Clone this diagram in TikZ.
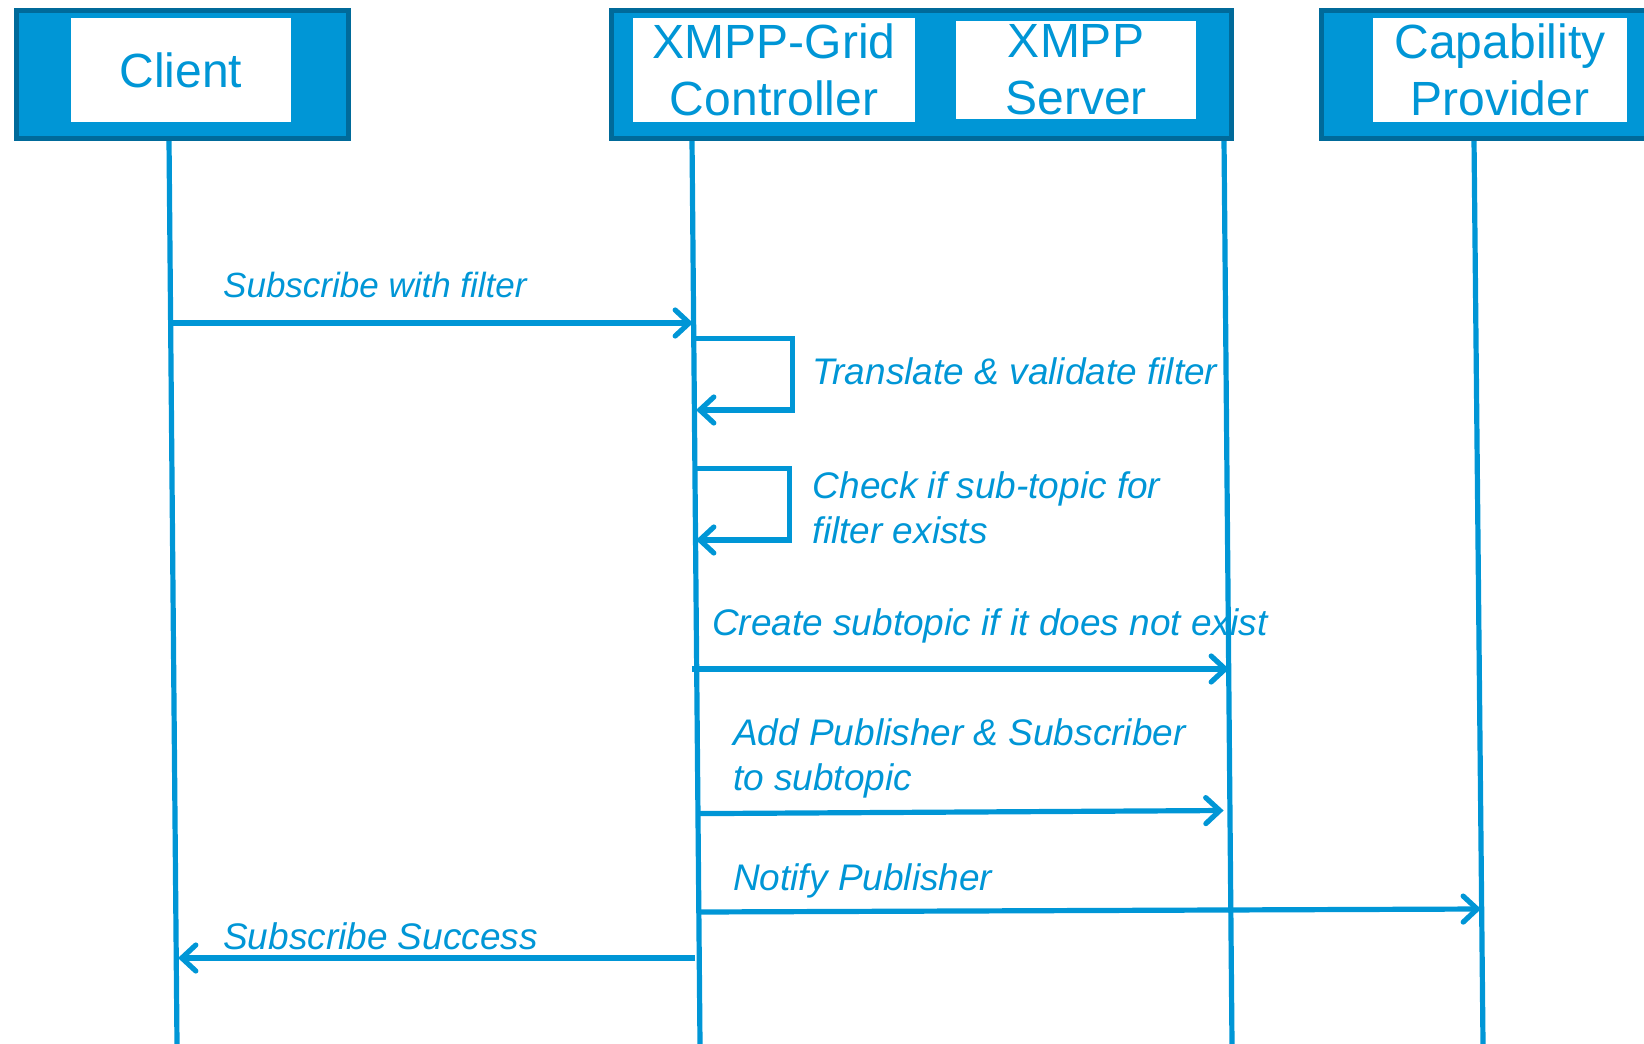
\documentclass[tikz,border=0pt]{standalone}
\usepackage{fontspec}
\setmainfont{Liberation Sans}
\usetikzlibrary{arrows.meta}
\definecolor{cblue}{HTML}{0096D6}
\definecolor{cdark}{HTML}{006A9A}
\begin{document}
\begin{tikzpicture}[x=1pt,y=-1pt,
  frame/.style={draw=cdark, fill=cblue, line width=5pt},
  namebox/.style={fill=white, inner sep=0pt, text=cblue,
    font=\fontsize{48}{57.6}\selectfont, align=center},
  lifeline/.style={draw=cblue, line width=5.2pt},
  msg/.style={draw=cblue, line width=5.2pt,
    -{Straight Barb[length=14pt, width=26pt, line cap=round]}},
  lbl/.style={text=cblue, font=\fontsize{37}{45}\selectfont\itshape,
    anchor=base west, inner sep=0pt, align=left}]
\useasboundingbox (0,0) rectangle (1644,1044);
\clip (0,0) rectangle (1644,1044);

% lifelines
\coordinate (clientTop) at (169,139);  \coordinate (clientBot) at (177,1044);
\coordinate (ctrlTop)   at (692,139);  \coordinate (ctrlBot)   at (700,1044);
\coordinate (srvTop)    at (1224,139); \coordinate (srvBot)    at (1232,1044);
\coordinate (capTop)    at (1474,139); \coordinate (capBot)    at (1483,1044);
\draw[lifeline] (clientTop) -- (clientBot);
\draw[lifeline] (ctrlTop) -- (ctrlBot);
\draw[lifeline] (srvTop) -- (srvBot);
\draw[lifeline] (capTop) -- (capBot);

% participant headers
\path[frame] (16,10.5) rectangle (348.5,138.5);
\path[frame] (611.5,10.5) rectangle (1231.5,138.5);
\path[frame] (1321.5,10.5) rectangle (1670,138.5);
\node[namebox, minimum width=220pt, minimum height=104pt] (client) at (181,70) {Client};
\node[namebox, minimum width=282pt, minimum height=104pt] (ctrl) at (774,70) {XMPP-Grid\\Controller};
\node[namebox, minimum width=240pt, minimum height=97.5pt] (srv) at (1076,69.75) {XMPP\\Server};
\node[namebox, minimum width=254pt, minimum height=104pt] (cap) at (1500,70) {Capability\\Provider};

% message end points
\coordinate (m1a) at (171,323);   \coordinate (m1b) at (693,323);
\coordinate (s1a) at (694,338.6); \coordinate (s1c) at (792.6,410); \coordinate (s1b) at (696,410);
\coordinate (s2a) at (694,468.7); \coordinate (s2c) at (789.5,540); \coordinate (s2b) at (696,540);
\coordinate (m4a) at (692,669);   \coordinate (m4b) at (1229,669);
\coordinate (m5a) at (699,813.6); \coordinate (m5b) at (1223.6,810.5);
\coordinate (m6a) at (700,912);   \coordinate (m6b) at (1481,909);
\coordinate (m7a) at (695,958);   \coordinate (m7b) at (178,958);

% messages
\draw[msg] (m1a) -- (m1b);
\draw[msg] (s1a) -| (s1c) -- (s1b);
\draw[msg] (s2a) -| (s2c) -- (s2b);
\draw[msg] (m4a) -- (m4b);
\draw[msg] (m5a) -- (m5b);
\draw[msg] (m6a) -- (m6b);
\draw[msg] (m7a) -- (m7b);

% message labels (multi-line labels sit on their last baseline)
\node[lbl, font=\fontsize{35}{45}\selectfont\itshape] (l1) at (223,297.7) {Subscribe with filter};
\node[lbl] (l2) at (812.6,384.5) {Translate \& validate filter};
\node[lbl] (l3) at (812.6,543) {Check if sub-topic for\\filter exists};
\node[lbl] (l4) at (712,635) {Create subtopic if it does not exist};
\node[lbl] (l5) at (733,790.5) {Add Publisher \& Subscriber\\to subtopic};
\node[lbl] (l6) at (733,890) {Notify Publisher};
\node[lbl] (l7) at (223,949) {Subscribe Success};
\end{tikzpicture}
\end{document}
